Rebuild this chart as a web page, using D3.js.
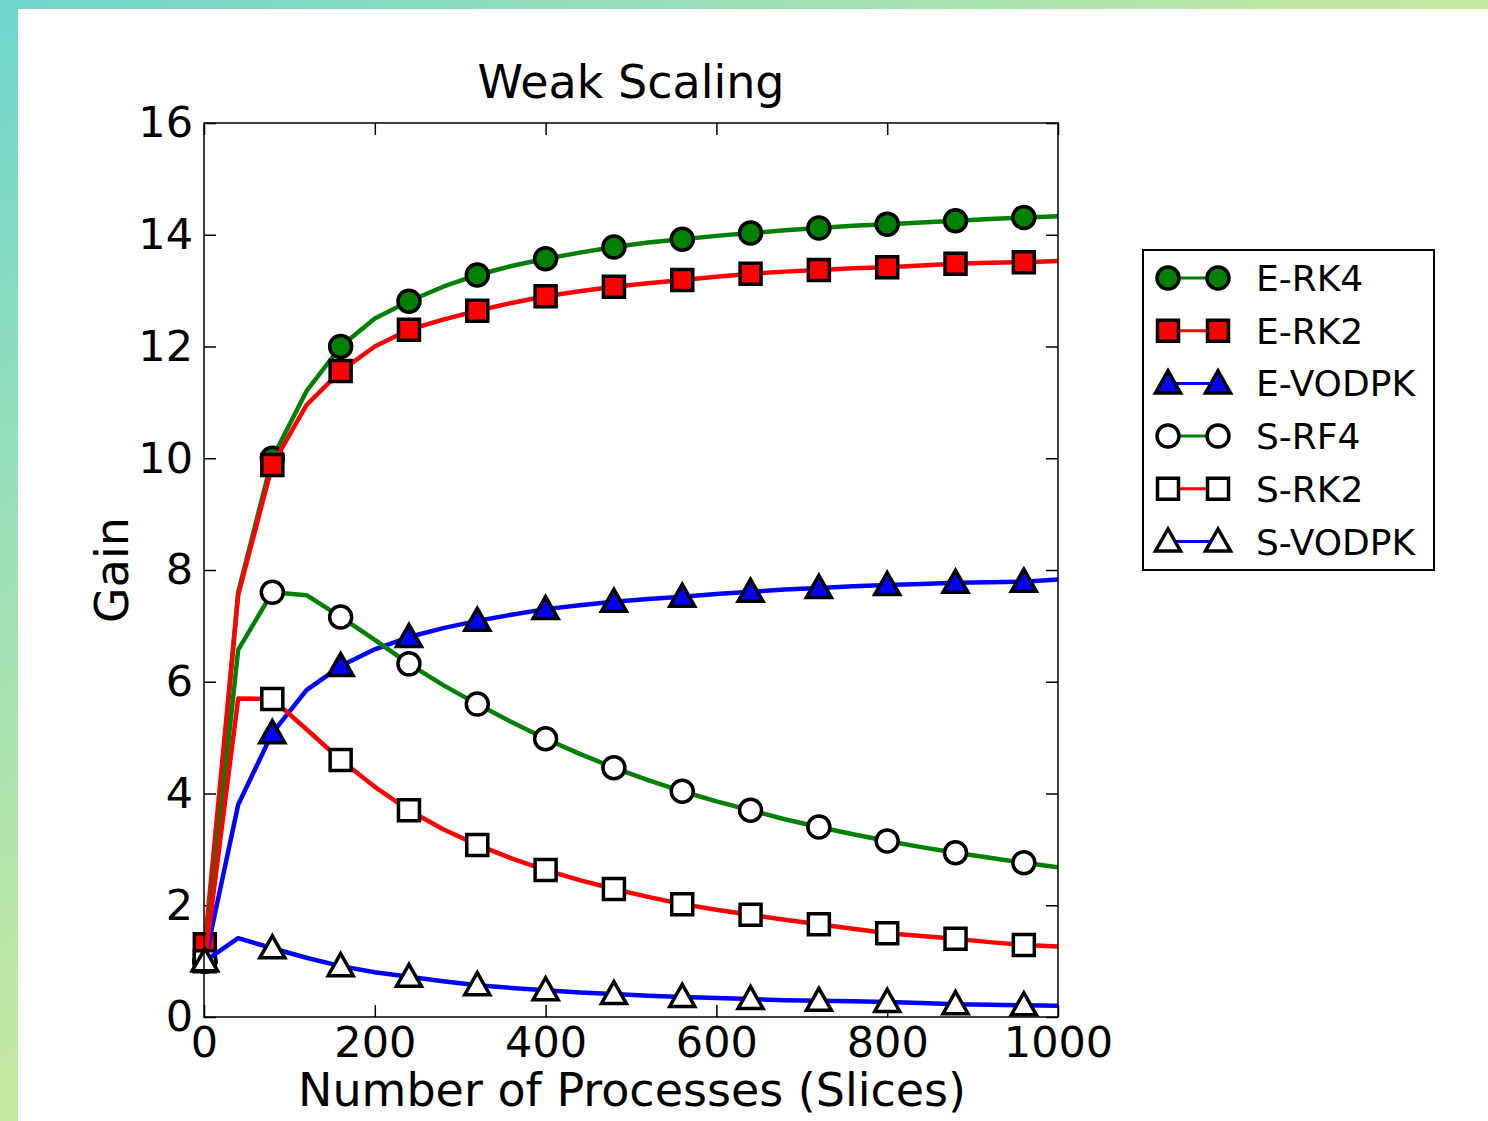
<!DOCTYPE html>
<html>
<head>
<meta charset="utf-8">
<script src="https://cdn.jsdelivr.net/npm/d3@7"></script>
<style>
  body { margin: 0; padding: 0; background: #fff; }
  text { font-family: "DejaVu Sans", sans-serif; fill: #000; }
</style>
</head>
<body>
<div id="chart"></div>
<script>
"use strict"

// process counts (line points); markers drawn on every other point
var procs = [1, 40, 80, 120, 160, 200, 240, 280, 320, 360, 400, 440, 480, 520, 560, 600, 640, 680, 720, 760, 800, 840, 880, 920, 960, 1000];

var seriesNames = ['E-RK4', 'E-RK2', 'E-VODPK', 'S-RF4', 'S-RK2', 'S-VODPK'];

var eRK4 = [1.0, 7.6, 10.0, 11.2, 12.0, 12.5, 12.81, 13.07, 13.28, 13.44, 13.57, 13.68, 13.78, 13.86, 13.92, 13.98, 14.03, 14.08, 14.12, 14.16, 14.19, 14.22, 14.25, 14.28, 14.31, 14.33];
var eRK2 = [1.3, 7.55, 9.88, 10.95, 11.56, 12.0, 12.3, 12.48, 12.64, 12.78, 12.9, 12.99, 13.07, 13.13, 13.19, 13.25, 13.3, 13.34, 13.37, 13.4, 13.42, 13.45, 13.48, 13.5, 13.51, 13.53];
var eVODPK = [1.0, 3.8, 5.08, 5.85, 6.28, 6.58, 6.8, 6.96, 7.09, 7.2, 7.3, 7.37, 7.43, 7.48, 7.52, 7.57, 7.61, 7.65, 7.68, 7.71, 7.73, 7.75, 7.77, 7.78, 7.79, 7.83];
var sRF4 = [1.0, 6.57, 7.6, 7.55, 7.16, 6.75, 6.32, 5.94, 5.6, 5.28, 4.98, 4.71, 4.46, 4.24, 4.04, 3.86, 3.7, 3.54, 3.4, 3.27, 3.15, 3.04, 2.94, 2.85, 2.76, 2.68];
var sRK2 = [1.0, 5.7, 5.69, 5.15, 4.6, 4.12, 3.7, 3.36, 3.08, 2.84, 2.63, 2.45, 2.29, 2.15, 2.02, 1.92, 1.83, 1.74, 1.66, 1.58, 1.5, 1.45, 1.4, 1.34, 1.29, 1.26];
var sVODPK = [1.0, 1.41, 1.23, 1.06, 0.91, 0.8, 0.72, 0.64, 0.57, 0.52, 0.48, 0.44, 0.41, 0.38, 0.36, 0.34, 0.32, 0.3, 0.29, 0.28, 0.27, 0.25, 0.23, 0.22, 0.21, 0.2];

var xTicks = [0, 200, 400, 600, 800, 1000];
var yTicks = [0, 2, 4, 6, 8, 10, 12, 14, 16];

// look of each series
var styles = [
    {color: 'green', fill: 'green', shape: 'circle'},
    {color: 'red', fill: 'red', shape: 'square'},
    {color: 'blue', fill: 'blue', shape: 'triangle'},
    {color: 'green', fill: 'white', shape: 'circle'},
    {color: 'red', fill: 'white', shape: 'square'},
    {color: 'blue', fill: 'white', shape: 'triangle'}
];
var allValues = [eRK4, eRK2, eVODPK, sRF4, sRK2, sVODPK];

var W = 1488, H = 1121;
var margin = {top: 123, left: 204};
var width = 854, height = 894;

var svg = d3.select("#chart").append("svg")
    .attr("width", W)
    .attr("height", H);

// slide background: gradient frame with white panel
var defs = svg.append("defs");
var grad = defs.append("linearGradient")
    .attr("id", "frame")
    .attr("x1", "0").attr("y1", "0").attr("x2", "1").attr("y2", "1");
grad.append("stop").attr("offset", "0%").attr("stop-color", "#6ed6cd");
grad.append("stop").attr("offset", "25%").attr("stop-color", "#9de0b6");
grad.append("stop").attr("offset", "50%").attr("stop-color", "#c6e9a0");
grad.append("stop").attr("offset", "100%").attr("stop-color", "#d2eba2");
svg.append("rect").attr("width", W).attr("height", H).attr("fill", "url(#frame)");
svg.append("rect").attr("x", 18).attr("y", 9).attr("width", W - 18).attr("height", H - 9).attr("fill", "#fff");

var x = d3.scaleLinear().domain([0, 1000]).range([0, width]);
var y = d3.scaleLinear().domain([0, 16]).range([height, 0]);

var g = svg.append("g").attr("transform", "translate(" + margin.left + "," + margin.top + ")");

defs.append("clipPath").attr("id", "plotclip")
    .append("rect").attr("width", width).attr("height", height);

// axes with inward ticks on all sides
function styleAxis(sel) {
    sel.select(".domain").remove();
    sel.selectAll("line").attr("stroke", "#000").attr("stroke-width", 1.5);
    sel.selectAll("text").style("font-size", "43px").style("font-family", "DejaVu Sans");
}
g.append("g")
    .attr("transform", "translate(0," + height + ")")
    .call(d3.axisBottom(x).tickValues(xTicks).tickSizeInner(-12).tickSizeOuter(0).tickPadding(9).tickFormat(d3.format("d")))
    .call(styleAxis);
g.append("g")
    .call(d3.axisTop(x).tickValues(xTicks).tickSizeInner(-12).tickSizeOuter(0).tickFormat(""))
    .call(styleAxis);
g.append("g")
    .call(d3.axisLeft(y).tickValues(yTicks).tickSizeInner(-12).tickSizeOuter(0).tickPadding(11))
    .call(styleAxis);
g.append("g")
    .attr("transform", "translate(" + width + ",0)")
    .call(d3.axisRight(y).tickValues(yTicks).tickSizeInner(-12).tickSizeOuter(0).tickFormat(""))
    .call(styleAxis);

function markerPath(shape) {
    if (shape === 'circle') return d3.symbol().type(d3.symbolCircle).size(Math.PI * 11 * 11)();
    if (shape === 'square') return "M-10.5,-10.5H10.5V10.5H-10.5Z";
    return "M0,-12.5L12.5,9.5H-12.5Z";
}

var line = d3.line().x(function(d) { return x(d[0]); }).y(function(d) { return y(d[1]); });

allValues.forEach(function(vals, si) {
    var st = styles[si];
    var pts = procs.map(function(p, i) { return [p, vals[i]]; });
    var sg = g.append("g");
    sg.append("path")
        .datum(pts)
        .attr("d", line)
        .attr("fill", "none")
        .attr("stroke", st.color)
        .attr("stroke-width", 4.5)
        .attr("stroke-linejoin", "round")
        .attr("clip-path", "url(#plotclip)");
    sg.selectAll("path.mk")
        .data(pts.filter(function(d, i) { return i % 2 === 0; }))
        .enter().append("path")
        .attr("class", "mk")
        .attr("d", markerPath(st.shape))
        .attr("transform", function(d) { return "translate(" + x(d[0]) + "," + y(d[1]) + ")"; })
        .attr("fill", st.fill)
        .attr("stroke", "#000")
        .attr("stroke-width", 3.5);
});

// frame on top
g.append("rect").attr("width", width).attr("height", height)
    .attr("fill", "none").attr("stroke", "#000").attr("stroke-width", 1.5);

// titles
svg.append("text")
    .attr("x", 631).attr("y", 98)
    .attr("text-anchor", "middle").style("font-size", "46px")
    .text("Weak Scaling");
svg.append("text")
    .attr("x", 632).attr("y", 1106)
    .attr("text-anchor", "middle").style("font-size", "46px")
    .text("Number of Processes (Slices)");
svg.append("text")
    .attr("transform", "translate(128," + (margin.top + height / 2) + ") rotate(-90)")
    .attr("text-anchor", "middle").style("font-size", "46px")
    .text("Gain");

// legend
var leg = svg.append("g").attr("transform", "translate(1143,250)");
leg.append("rect").attr("width", 291).attr("height", 320)
    .attr("fill", "#fff").attr("stroke", "#000").attr("stroke-width", 2);
seriesNames.forEach(function(name, i) {
    var st = styles[i];
    var yy = 28 + i * 52.7;
    leg.append("line").attr("x1", 25).attr("x2", 75).attr("y1", yy).attr("y2", yy)
        .attr("stroke", st.color).attr("stroke-width", 3);
    [25, 75].forEach(function(mx) {
        leg.append("path").attr("d", markerPath(st.shape))
            .attr("transform", "translate(" + mx + "," + yy + ")")
            .attr("fill", st.fill).attr("stroke", "#000").attr("stroke-width", 3.5);
    });
    leg.append("text").attr("x", 113).attr("y", yy + 13)
        .style("font-size", "36px").text(name);
});
</script>
</body>
</html>
